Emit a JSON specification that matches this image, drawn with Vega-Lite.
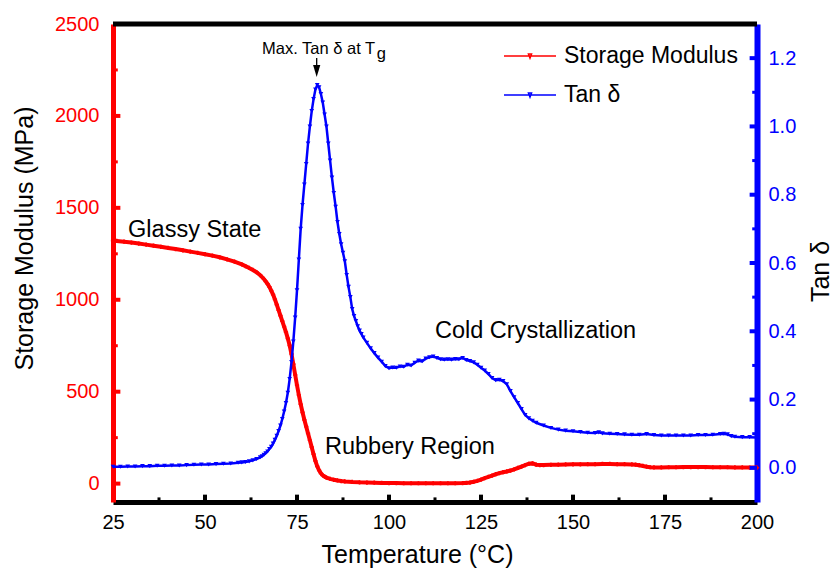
{
  "$schema": "https://vega.github.io/schema/vega-lite/v6.json",
  "width": 644,
  "height": 478,
  "autosize": {"type": "none"},
  "padding": {"left": 113, "top": 24, "right": 75, "bottom": 70},
  "background": "white",
  "config": {
    "view": {"stroke": null},
    "font": "Liberation Sans",
    "axis": {"grid": false, "ticks": false, "labelFont": "Liberation Sans", "titleFont": "Liberation Sans", "titleFontWeight": "normal", "labelFlush": false, "labelOverlap": false, "labelBound": false}
  },
  "datasets": {
    "modulus": [
      {"T": 25, "E": 1322}, {"T": 26, "E": 1320}, {"T": 28, "E": 1316}, {"T": 30, "E": 1311}, {"T": 32, "E": 1306},
      {"T": 34, "E": 1300}, {"T": 36, "E": 1294}, {"T": 38, "E": 1288}, {"T": 40, "E": 1282}, {"T": 42, "E": 1276},
      {"T": 44, "E": 1269}, {"T": 46, "E": 1262}, {"T": 48, "E": 1255}, {"T": 50, "E": 1248}, {"T": 52, "E": 1240},
      {"T": 54, "E": 1231}, {"T": 56, "E": 1220}, {"T": 58, "E": 1207}, {"T": 60, "E": 1192}, {"T": 61, "E": 1183},
      {"T": 62, "E": 1173}, {"T": 63, "E": 1162}, {"T": 64, "E": 1150}, {"T": 65, "E": 1134}, {"T": 66, "E": 1113},
      {"T": 66.5, "E": 1100}, {"T": 67, "E": 1086}, {"T": 67.5, "E": 1070}, {"T": 68, "E": 1050}, {"T": 68.5, "E": 1028},
      {"T": 69, "E": 1002}, {"T": 69.5, "E": 974}, {"T": 70, "E": 944}, {"T": 70.5, "E": 914}, {"T": 71, "E": 884},
      {"T": 71.5, "E": 854}, {"T": 72, "E": 824}, {"T": 72.5, "E": 790}, {"T": 73, "E": 752}, {"T": 73.5, "E": 705},
      {"T": 74, "E": 650}, {"T": 74.5, "E": 592}, {"T": 75, "E": 535}, {"T": 75.5, "E": 482}, {"T": 76, "E": 432},
      {"T": 76.5, "E": 388}, {"T": 77, "E": 347}, {"T": 77.5, "E": 310}, {"T": 78, "E": 273}, {"T": 78.5, "E": 236},
      {"T": 79, "E": 198}, {"T": 79.5, "E": 160}, {"T": 80, "E": 124}, {"T": 80.5, "E": 94}, {"T": 81, "E": 72},
      {"T": 81.5, "E": 56}, {"T": 82, "E": 45}, {"T": 82.5, "E": 38}, {"T": 83, "E": 33}, {"T": 84, "E": 26},
      {"T": 85, "E": 21}, {"T": 86, "E": 17}, {"T": 87, "E": 14}, {"T": 88, "E": 12}, {"T": 90, "E": 9},
      {"T": 92, "E": 7}, {"T": 94, "E": 6}, {"T": 96, "E": 5}, {"T": 98, "E": 4}, {"T": 100, "E": 3},
      {"T": 102, "E": 3}, {"T": 104, "E": 2}, {"T": 106, "E": 2}, {"T": 108, "E": 2}, {"T": 110, "E": 2},
      {"T": 112, "E": 2}, {"T": 114, "E": 2}, {"T": 116, "E": 2}, {"T": 118, "E": 2}, {"T": 120, "E": 3},
      {"T": 121, "E": 4}, {"T": 122, "E": 6}, {"T": 123, "E": 10}, {"T": 124, "E": 15}, {"T": 125, "E": 22},
      {"T": 126, "E": 30}, {"T": 127, "E": 37}, {"T": 128, "E": 44}, {"T": 129, "E": 51}, {"T": 130, "E": 57},
      {"T": 131, "E": 62}, {"T": 132, "E": 66}, {"T": 133, "E": 71}, {"T": 134, "E": 78}, {"T": 135, "E": 85},
      {"T": 136, "E": 92}, {"T": 137, "E": 100}, {"T": 138, "E": 108}, {"T": 139, "E": 110}, {"T": 140, "E": 103},
      {"T": 141, "E": 101}, {"T": 142, "E": 101}, {"T": 144, "E": 102}, {"T": 146, "E": 103}, {"T": 148, "E": 104},
      {"T": 150, "E": 105}, {"T": 152, "E": 105}, {"T": 154, "E": 106}, {"T": 156, "E": 106}, {"T": 158, "E": 107},
      {"T": 160, "E": 107}, {"T": 162, "E": 106}, {"T": 164, "E": 106}, {"T": 166, "E": 104}, {"T": 167, "E": 103},
      {"T": 168, "E": 100}, {"T": 169, "E": 96}, {"T": 170, "E": 92}, {"T": 171, "E": 89}, {"T": 172, "E": 88},
      {"T": 174, "E": 88}, {"T": 176, "E": 89}, {"T": 178, "E": 89}, {"T": 180, "E": 90}, {"T": 182, "E": 90},
      {"T": 184, "E": 90}, {"T": 186, "E": 90}, {"T": 188, "E": 89}, {"T": 190, "E": 89}, {"T": 192, "E": 89},
      {"T": 194, "E": 88}, {"T": 196, "E": 88}, {"T": 198, "E": 87}, {"T": 200, "E": 87}
    ],
    "tand": [
      {"T": 25, "v": 0.003}, {"T": 27, "v": 0.003}, {"T": 29, "v": 0.004}, {"T": 31, "v": 0.004}, {"T": 33, "v": 0.005},
      {"T": 35, "v": 0.005}, {"T": 37, "v": 0.006}, {"T": 39, "v": 0.006}, {"T": 41, "v": 0.007}, {"T": 43, "v": 0.007},
      {"T": 45, "v": 0.008}, {"T": 47, "v": 0.009}, {"T": 49, "v": 0.010}, {"T": 51, "v": 0.010}, {"T": 53, "v": 0.011},
      {"T": 55, "v": 0.012}, {"T": 57, "v": 0.013}, {"T": 59, "v": 0.015}, {"T": 60, "v": 0.016}, {"T": 61, "v": 0.017},
      {"T": 62, "v": 0.019}, {"T": 63, "v": 0.022}, {"T": 64, "v": 0.026}, {"T": 65, "v": 0.031}, {"T": 65.5, "v": 0.034},
      {"T": 66, "v": 0.038}, {"T": 66.5, "v": 0.043}, {"T": 67, "v": 0.048}, {"T": 67.5, "v": 0.055}, {"T": 68, "v": 0.062},
      {"T": 68.5, "v": 0.071}, {"T": 69, "v": 0.082}, {"T": 69.5, "v": 0.094}, {"T": 70, "v": 0.108}, {"T": 70.5, "v": 0.124},
      {"T": 71, "v": 0.143}, {"T": 71.5, "v": 0.165}, {"T": 72, "v": 0.19}, {"T": 72.5, "v": 0.22}, {"T": 73, "v": 0.26},
      {"T": 73.5, "v": 0.31}, {"T": 74, "v": 0.37}, {"T": 74.5, "v": 0.44}, {"T": 75, "v": 0.52}, {"T": 75.5, "v": 0.61},
      {"T": 76, "v": 0.70}, {"T": 76.5, "v": 0.77}, {"T": 77, "v": 0.83}, {"T": 77.5, "v": 0.89}, {"T": 78, "v": 0.95},
      {"T": 78.5, "v": 1.00}, {"T": 79, "v": 1.045}, {"T": 79.5, "v": 1.08}, {"T": 80, "v": 1.108}, {"T": 80.5, "v": 1.121},
      {"T": 81, "v": 1.115}, {"T": 81.5, "v": 1.095}, {"T": 82, "v": 1.07}, {"T": 82.5, "v": 1.035}, {"T": 83, "v": 1.00},
      {"T": 83.5, "v": 0.95}, {"T": 84, "v": 0.90}, {"T": 84.5, "v": 0.85}, {"T": 85, "v": 0.805}, {"T": 85.5, "v": 0.765},
      {"T": 86, "v": 0.72}, {"T": 86.5, "v": 0.685}, {"T": 87, "v": 0.655}, {"T": 87.5, "v": 0.63}, {"T": 88, "v": 0.605},
      {"T": 88.5, "v": 0.565}, {"T": 89, "v": 0.53}, {"T": 89.5, "v": 0.50}, {"T": 90, "v": 0.465}, {"T": 90.5, "v": 0.445},
      {"T": 91, "v": 0.43}, {"T": 91.5, "v": 0.415}, {"T": 92, "v": 0.402}, {"T": 92.5, "v": 0.392}, {"T": 93, "v": 0.382},
      {"T": 94, "v": 0.366}, {"T": 95, "v": 0.350}, {"T": 96, "v": 0.336}, {"T": 97, "v": 0.323}, {"T": 98, "v": 0.311},
      {"T": 99, "v": 0.298}, {"T": 100, "v": 0.292}, {"T": 101, "v": 0.294}, {"T": 102, "v": 0.293}, {"T": 103, "v": 0.297},
      {"T": 104, "v": 0.296}, {"T": 105, "v": 0.302}, {"T": 106, "v": 0.300}, {"T": 107, "v": 0.308}, {"T": 108, "v": 0.314},
      {"T": 109, "v": 0.312}, {"T": 110, "v": 0.320}, {"T": 111, "v": 0.324}, {"T": 112, "v": 0.326}, {"T": 113, "v": 0.322},
      {"T": 114, "v": 0.318}, {"T": 115, "v": 0.317}, {"T": 116, "v": 0.318}, {"T": 117, "v": 0.317}, {"T": 118, "v": 0.319},
      {"T": 119, "v": 0.318}, {"T": 120, "v": 0.322}, {"T": 121, "v": 0.316}, {"T": 122, "v": 0.313}, {"T": 123, "v": 0.309},
      {"T": 124, "v": 0.302}, {"T": 125, "v": 0.293}, {"T": 126, "v": 0.285}, {"T": 127, "v": 0.275}, {"T": 128, "v": 0.263},
      {"T": 129, "v": 0.257}, {"T": 130, "v": 0.258}, {"T": 131, "v": 0.254}, {"T": 132, "v": 0.245}, {"T": 133, "v": 0.225},
      {"T": 134, "v": 0.207}, {"T": 135, "v": 0.19}, {"T": 136, "v": 0.172}, {"T": 137, "v": 0.155}, {"T": 138, "v": 0.145},
      {"T": 139, "v": 0.138}, {"T": 140, "v": 0.132}, {"T": 142, "v": 0.124}, {"T": 144, "v": 0.117}, {"T": 146, "v": 0.112},
      {"T": 148, "v": 0.109}, {"T": 150, "v": 0.107}, {"T": 152, "v": 0.105}, {"T": 154, "v": 0.103}, {"T": 156, "v": 0.102},
      {"T": 157, "v": 0.104}, {"T": 158, "v": 0.101}, {"T": 160, "v": 0.100}, {"T": 162, "v": 0.099}, {"T": 164, "v": 0.098},
      {"T": 166, "v": 0.097}, {"T": 168, "v": 0.097}, {"T": 170, "v": 0.099}, {"T": 172, "v": 0.096}, {"T": 174, "v": 0.095},
      {"T": 176, "v": 0.095}, {"T": 178, "v": 0.095}, {"T": 180, "v": 0.095}, {"T": 182, "v": 0.095}, {"T": 184, "v": 0.096},
      {"T": 186, "v": 0.096}, {"T": 188, "v": 0.097}, {"T": 190, "v": 0.099}, {"T": 191, "v": 0.100}, {"T": 192, "v": 0.098},
      {"T": 193, "v": 0.093}, {"T": 194, "v": 0.091}, {"T": 196, "v": 0.090}, {"T": 198, "v": 0.090}, {"T": 200, "v": 0.089}
    ],
    "notes": [
      {"T": 29.1, "E": 1340, "note": "Glassy State"},
      {"T": 82.6, "E": 163, "note": "Rubbery Region"},
      {"T": 112.5, "E": 790, "note": "Cold Crystallization"},
      {"T": 65.5, "E": 2337, "note": "Max. Tan δ at T"},
      {"T": 96.7, "E": 2309, "note": "g"}
    ],
    "arrow": [
      {"T": 80.35, "E": 2315, "E2": 2244}
    ],
    "xMajor": [{"T": 50}, {"T": 75}, {"T": 100}, {"T": 125}, {"T": 150}, {"T": 175}],
    "xMinor": [{"T": 37.5}, {"T": 62.5}, {"T": 87.5}, {"T": 112.5}, {"T": 137.5}, {"T": 162.5}, {"T": 187.5}],
    "eMajor": [{"E": 0}, {"E": 500}, {"E": 1000}, {"E": 1500}, {"E": 2000}],
    "eMinor": [{"E": 250}, {"E": 750}, {"E": 1250}, {"E": 1750}, {"E": 2250}],
    "vMajor": [{"v": 0}, {"v": 0.2}, {"v": 0.4}, {"v": 0.6}, {"v": 0.8}, {"v": 1.0}, {"v": 1.2}],
    "vMinor": [{"v": 0.1}, {"v": 0.3}, {"v": 0.5}, {"v": 0.7}, {"v": 0.9}, {"v": 1.1}]
  },
  "layer": [
    {
      "layer": [
        {
          "data": {"name": "modulus"},
          "mark": {"type": "line", "strokeWidth": 4},
          "encoding": {
            "x": {
              "field": "T", "type": "quantitative",
              "scale": {"domain": [25, 200], "nice": false, "zero": false},
              "axis": {
                "title": "Temperature (°C)",
                "values": [25, 50, 75, 100, 125, 150, 175, 200],
                "domainColor": "#000000", "domainWidth": 5,
                "labelPadding": 10, "labelFontSize": 20, "labelColor": "#000000",
                "titleFontSize": 25, "titleColor": "#000000",
                "titleX": 304, "titleY": 60, "titleBaseline": "alphabetic", "titleAlign": "center"
              }
            },
            "y": {
              "field": "E", "type": "quantitative",
              "scale": {"domain": [-100, 2500], "nice": false, "zero": false},
              "axis": {
                "title": "Storage Modulus (MPa)",
                "values": [0, 500, 1000, 1500, 2000, 2500],
                "format": "d",
                "domainColor": "#ff0000", "domainWidth": 5,
                "labelPadding": 14, "labelFontSize": 20, "labelColor": "#ff0000",
                "titleFontSize": 25, "titleColor": "#000000",
                "titleAngle": 270, "titleX": -89, "titleY": 214, "titleAlign": "center", "titleBaseline": "middle"
              }
            },
            "color": {
              "datum": "Storage Modulus",
              "scale": {"domain": ["Storage Modulus", "Tan δ"], "range": ["#ff0000", "#0000ff"]},
              "legend": {
                "orient": "none", "legendX": 390, "legendY": 5, "title": null,
                "symbolType": "M-1,0H1M-0.06,-0.08H0.06L0,0.08Z",
                "symbolSize": 2704, "symbolStrokeWidth": 1.5,
                "labelFontSize": 23, "labelFont": "Liberation Sans", "labelColor": "#000000",
                "labelOffset": 7, "rowPadding": -20, "padding": 0, "labelLimit": 300
              }
            }
          }
        },
        {
          "data": {"name": "modulus"},
          "mark": {"type": "point", "shape": "cross", "filled": true, "size": 18, "color": "#ff0000", "opacity": 1},
          "encoding": {
            "x": {"field": "T", "type": "quantitative"},
            "y": {"field": "E", "type": "quantitative"}
          }
        },
        {
          "data": {"values": [{}]},
          "mark": {"type": "rule", "color": "#000000", "strokeWidth": 5},
          "encoding": {"y": {"datum": 2500}}
        },
        {
          "data": {"name": "xMajor"},
          "mark": {"type": "rule", "color": "#000000", "strokeWidth": 4, "strokeCap": "butt"},
          "encoding": {"x": {"field": "T", "type": "quantitative"}, "y": {"datum": -100}, "y2": {"datum": -60}}
        },
        {
          "data": {"name": "xMinor"},
          "mark": {"type": "rule", "color": "#000000", "strokeWidth": 3, "strokeCap": "butt"},
          "encoding": {"x": {"field": "T", "type": "quantitative"}, "y": {"datum": -100}, "y2": {"datum": -75}}
        },
        {
          "data": {"name": "eMajor"},
          "mark": {"type": "rule", "color": "#ff0000", "strokeWidth": 4, "strokeCap": "butt"},
          "encoding": {"y": {"field": "E", "type": "quantitative"}, "x": {"datum": 25}, "x2": {"datum": 27}}
        },
        {
          "data": {"name": "eMinor"},
          "mark": {"type": "rule", "color": "#ff0000", "strokeWidth": 3, "strokeCap": "butt"},
          "encoding": {"y": {"field": "E", "type": "quantitative"}, "x": {"datum": 25}, "x2": {"datum": 26.3}}
        },
        {
          "data": {"name": "notes"},
          "transform": [{"filter": "datum.E < 2000"}],
          "mark": {"type": "text", "align": "left", "baseline": "alphabetic", "fontSize": 23.5, "font": "Liberation Sans", "color": "#000000"},
          "encoding": {
            "x": {"field": "T", "type": "quantitative"},
            "y": {"field": "E", "type": "quantitative"},
            "text": {"field": "note"}
          }
        },
        {
          "data": {"name": "notes"},
          "transform": [{"filter": "datum.E >= 2000"}],
          "mark": {"type": "text", "align": "left", "baseline": "alphabetic", "fontSize": 16.5, "font": "Liberation Sans", "color": "#000000"},
          "encoding": {
            "x": {"field": "T", "type": "quantitative"},
            "y": {"field": "E", "type": "quantitative"},
            "text": {"field": "note"}
          }
        },
        {
          "data": {"name": "arrow"},
          "mark": {"type": "rule", "color": "#000000", "strokeWidth": 1.3},
          "encoding": {
            "x": {"field": "T", "type": "quantitative"},
            "y": {"field": "E", "type": "quantitative"},
            "y2": {"field": "E2"}
          }
        },
        {
          "data": {"name": "arrow"},
          "mark": {"type": "point", "shape": "M-0.6,-1H0.6L0,1Z", "filled": true, "size": 144, "color": "#000000", "opacity": 1},
          "encoding": {
            "x": {"field": "T", "type": "quantitative"},
            "y": {"field": "E2", "type": "quantitative"}
          }
        }
      ]
    },
    {
      "layer": [
        {
          "data": {"name": "tand"},
          "mark": {"type": "line", "strokeWidth": 2.5},
          "encoding": {
            "x": {"field": "T", "type": "quantitative"},
            "y": {
              "field": "v", "type": "quantitative",
              "scale": {"domain": [-0.1, 1.3], "nice": false, "zero": false},
              "axis": {
                "orient": "right",
                "title": "Tan δ",
                "values": [0, 0.2, 0.4, 0.6, 0.8, 1.0, 1.2],
                "format": ".1f",
                "domainColor": "#0000ff", "domainWidth": 6,
                "labelPadding": 11, "labelFontSize": 20, "labelColor": "#0000ff",
                "titleFontSize": 25, "titleColor": "#000000",
                "titleAngle": 270, "titleX": 63, "titleY": 247, "titleAlign": "center", "titleBaseline": "middle"
              }
            },
            "color": {"datum": "Tan δ"}
          }
        },
        {
          "data": {"name": "tand"},
          "mark": {"type": "point", "shape": "triangle-down", "filled": true, "size": 22, "color": "#0000ff", "opacity": 1},
          "encoding": {
            "x": {"field": "T", "type": "quantitative"},
            "y": {"field": "v", "type": "quantitative"}
          }
        },
        {
          "data": {"name": "vMajor"},
          "mark": {"type": "rule", "color": "#0000ff", "strokeWidth": 4, "strokeCap": "butt"},
          "encoding": {"y": {"field": "v", "type": "quantitative"}, "x": {"datum": 198}, "x2": {"datum": 200}}
        },
        {
          "data": {"name": "vMinor"},
          "mark": {"type": "rule", "color": "#0000ff", "strokeWidth": 3, "strokeCap": "butt"},
          "encoding": {"y": {"field": "v", "type": "quantitative"}, "x": {"datum": 198.7}, "x2": {"datum": 200}}
        }
      ]
    }
  ],
  "resolve": {"scale": {"y": "independent"}}
}
